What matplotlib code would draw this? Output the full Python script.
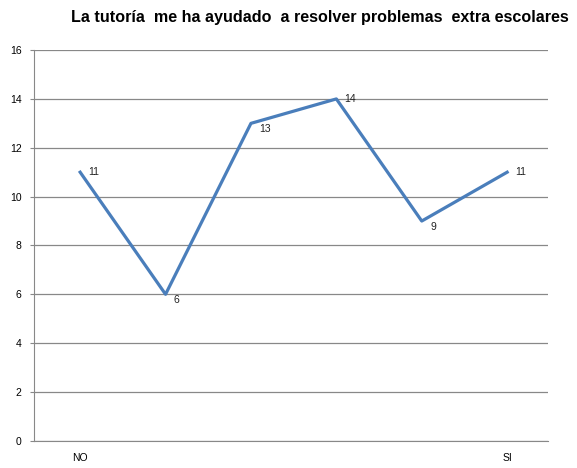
import matplotlib.pyplot as plt

categories = ["NO", "", "", "", "", "SI"]
values = [11, 6, 13, 14, 9, 11]
yticks = [0, 2, 4, 6, 8, 10, 12, 14, 16]

plt.rcParams['font.family'] = ['Liberation Sans', 'DejaVu Sans']

fig = plt.figure(figsize=(5.77, 4.68), dpi=100)
ax = fig.add_axes([0.059, 0.058, 0.891, 0.835])

x = list(range(len(values)))
ax.plot(x, values, color='#4A7EBB', linewidth=2.3, zorder=3)

offsets = [(6, 0), (6, -4), (6, -4), (6, 0), (6, -4), (6, 0)]
for xi, v, off in zip(x, values, offsets):
    ax.annotate(str(v), (xi, v), xytext=off, textcoords='offset points',
                ha='left', va='center', fontsize=7.5, color='#222222')

ax.set_xlim(-0.54, 5.48)
ax.set_ylim(0, 16)
ax.set_yticks(yticks)
ax.set_xticks(x)
ax.set_xticklabels(categories, fontsize=7.5)
ax.tick_params(axis='y', labelsize=7.5, length=3, color='#888888', pad=6)
ax.tick_params(axis='x', length=0, pad=9)
ax.grid(axis='y', color='#888888', linewidth=0.9)
ax.set_axisbelow(True)
for s in ['top', 'right']:
    ax.spines[s].set_visible(False)
for s in ['left', 'bottom']:
    ax.spines[s].set_color('#888888')

fig.text(0.986, 0.962, "La tutoría  me ha ayudado  a resolver problemas  extra escolares",
         ha='right', va='center', fontsize=11.6, fontweight='bold')

fig.savefig('out.png', dpi=100)
